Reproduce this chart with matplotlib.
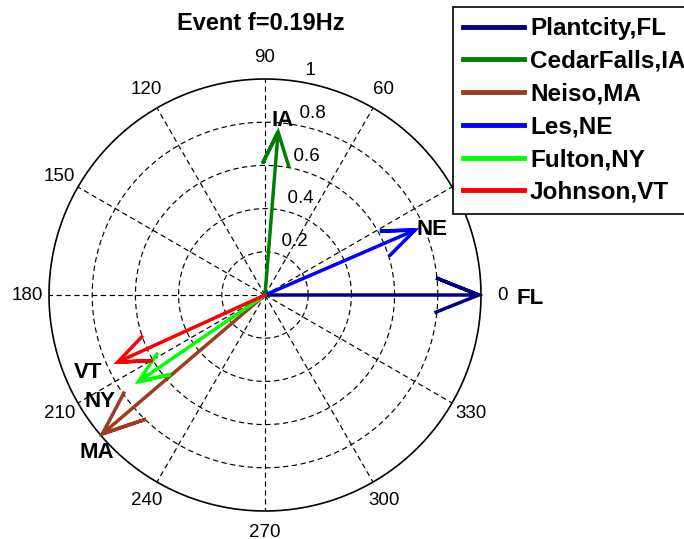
import numpy as np
import matplotlib.pyplot as plt

plt.rcParams['font.family'] = ['Liberation Sans', 'DejaVu Sans']

# ── Data ──────────────────────────────────────────────────────────────────────
stations = ['Plantcity,FL', 'CedarFalls,IA', 'Neiso,MA', 'Les,NE', 'Fulton,NY', 'Johnson,VT']
tags = ['FL', 'IA', 'MA', 'NE', 'NY', 'VT']
magnitude = [0.99, 0.757, 0.99, 0.757, 0.71, 0.75]
angle_deg = [0.0, 85.4, 220.5, 23.4, 214.4, 204.5]
colors = ['#000080', '#007f00', '#9c3d22', '#0000ff', '#00ff00', '#ff0000']
tag_pos = [(1.227, -0.014), (0.083, 0.810), (-0.778, -0.731),
           (0.773, 0.301), (-0.764, -0.495), (-0.819, -0.361)]
rings = [0.2, 0.4, 0.6, 0.8, 1.0]
spokes = np.arange(0, 360, 30)

# ── Figure ────────────────────────────────────────────────────────────────────
W, H = 684, 539
cx, cy, R = 265, 295, 216
fig = plt.figure(figsize=(W / 100, H / 100), dpi=100)
ax = fig.add_axes([(cx - R) / W, (H - cy - R) / H, 2 * R / W, 2 * R / H])
ax.set_xlim(-1, 1)
ax.set_ylim(-1, 1)
ax.set_aspect('equal')
ax.axis('off')

# ── Polar grid ────────────────────────────────────────────────────────────────
t = np.linspace(0, 2 * np.pi, 400)
dash = dict(color='black', lw=0.85, ls=(0, (4.5, 3)), zorder=1)
for r in rings[:-1]:
    ax.plot(r * np.cos(t), r * np.sin(t), **dash)
ax.plot(np.cos(t), np.sin(t), color='black', lw=1.2, zorder=1, clip_on=False)
for a in spokes:
    ra = np.deg2rad(a)
    ax.plot([0, np.cos(ra)], [0, np.sin(ra)], **dash)
    ax.text(1.1 * np.cos(ra), 1.1 * np.sin(ra), str(a), ha='center', va='center',
            fontsize=13.5, clip_on=False)

c82, s82 = np.cos(np.deg2rad(82)), np.sin(np.deg2rad(82))
for r in rings:
    ax.text((r + 0.01) * c82, (r + 0.01) * s82, '  ' + f'{r:g}', ha='left', va='bottom',
            fontsize=13.5, clip_on=False)

# ── Compass arrows ────────────────────────────────────────────────────────────
head = np.array([0, 1, 0.8 + 0.08j, 1, 0.8 - 0.08j])
handles = []
for name, m, a, c in zip(stations, magnitude, angle_deg, colors):
    z = m * np.exp(1j * np.deg2rad(a)) * head
    ln, = ax.plot(z.real, z.imag, color=c, lw=2.5, solid_joinstyle='miter',
                  zorder=3, clip_on=False, label=name)
    handles.append(ln)

for tag, (x, y) in zip(tags, tag_pos):
    ax.text(x, y, tag, ha='center', va='center', fontsize=16, weight='bold',
            clip_on=False, zorder=4)

# ── Title & legend ────────────────────────────────────────────────────────────
fig.text(261 / W, 1 - 23 / H, 'Event f=0.19Hz', ha='center', va='center',
         fontsize=17, weight='bold')

leg = ax.legend(handles=handles, loc='upper left', bbox_to_anchor=(453 / W, 1 - 7 / H),
                bbox_transform=fig.transFigure, prop=dict(size=17.5, weight='bold'),
                fancybox=False, framealpha=1, edgecolor='black', borderpad=0.42,
                borderaxespad=0, labelspacing=0.4, handlelength=2.5, handletextpad=0.25)
leg.get_frame().set_linewidth(1.2)
for lh in leg.get_lines():
    lh.set_linewidth(3.5)
leg.set_zorder(10)

fig.savefig('out.png', dpi=100)
